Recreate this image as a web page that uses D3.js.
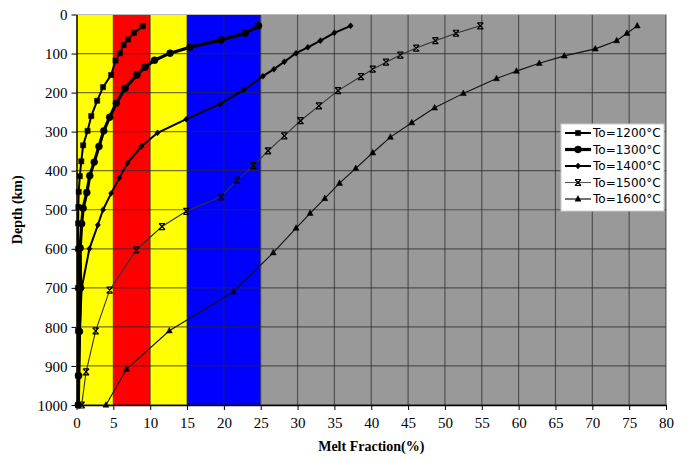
<!DOCTYPE html>
<html>
<head>
<meta charset="utf-8">
<script src="https://cdnjs.cloudflare.com/ajax/libs/d3/7.8.5/d3.min.js"></script>
<style>
  body { margin: 0; background: #fff; }
</style>
</head>
<body>
<div id="chart"></div>
<script>
// melt fraction (%) vs depth (km), one array per starting temperature
const s1200 = [[9.0,30],[7.8,47],[7.0,64],[6.4,78],[5.9,99],[5.3,118],[4.7,155],[3.6,186],[2.8,221],[2.0,260],[1.5,298],[0.9,335],[0.65,376],[0.45,414],[0.3,454],[0.25,493],[0.22,535],[0.2,600],[0.2,700],[0.2,810],[0.2,925],[0.2,1000]];
const s1300 = [[24.7,29],[22.9,48],[19.6,65],[15.4,84],[12.7,99],[10.6,117],[9.3,135],[8.2,155],[6.6,189],[5.4,227],[4.5,263],[3.7,298],[3.05,338],[2.4,378],[1.8,413],[1.4,456],[0.9,496],[0.7,536],[0.5,598],[0.55,700],[0.4,812],[0.3,925],[0.25,1000]];
const s1400 = [[37.2,29],[35.0,47],[33.1,67],[31.4,84],[29.8,99],[28.2,121],[26.8,140],[25.3,158],[22.7,193],[19.5,229],[14.9,268],[11.0,303],[8.8,338],[6.9,381],[5.8,419],[4.7,458],[3.6,500],[2.9,539],[1.75,600],[0.7,701],[0.45,810],[0.35,925],[0.3,1000]];
const s1500 = [[54.8,29],[51.5,48],[48.7,67],[46.1,86],[43.95,104],[42.0,122],[40.2,140],[38.6,159],[35.5,195],[32.9,234],[30.4,272],[28.2,311],[26.0,349],[24.0,387],[21.8,424],[19.6,467],[14.9,504],[11.6,543],[8.1,603],[4.5,706],[2.6,810],[1.3,915],[0.7,1000]];
const s1600 = [[76.1,29],[74.7,48],[73.3,67],[70.4,88],[66.2,106],[62.8,125],[59.7,145],[57.0,164],[52.5,202],[48.6,239],[45.5,277],[42.6,314],[40.2,354],[37.9,394],[35.7,432],[33.7,471],[31.7,509],[29.8,547],[26.7,610],[21.3,710],[12.6,810],[6.8,908],[4.0,1000]];

const seriesNames = ["To=1200°C", "To=1300°C", "To=1400°C", "To=1500°C", "To=1600°C"];

// coloured melt-fraction bands [from, to, colour]
const bands = [[0,5,"#ffff00"],[5,10,"#ff0000"],[10,15,"#ffff00"],[15,25,"#0000ff"],[25,80,"#999999"]];

const xTicks = d3.range(0, 81, 5);
const yTicks = d3.range(0, 1001, 100);

const W = 684, H = 462;
const margin = { top: 14.5, left: 76.5, right: 18, bottom: 57 };

const svg = d3.select("#chart").append("svg")
  .attr("width", W)
  .attr("height", H);

const x = d3.scaleLinear().domain([0, 80]).range([margin.left, W - margin.right]);
const y = d3.scaleLinear().domain([0, 1000]).range([margin.top, H - margin.bottom]);

// bands
svg.selectAll(".band")
  .data(bands)
  .enter().append("rect")
  .attr("x", d => x(d[0]))
  .attr("y", y(0))
  .attr("width", d => x(d[1]) - x(d[0]))
  .attr("height", y(1000) - y(0))
  .attr("fill", d => d[2]);

// grid
const grid = svg.append("g").attr("stroke", "#2a2a2a").attr("stroke-opacity", 0.65).attr("stroke-width", 1.2);
grid.selectAll(".vg").data(xTicks.slice(1)).enter().append("line")
  .attr("x1", d => x(d)).attr("x2", d => x(d))
  .attr("y1", y(0)).attr("y2", y(1000));
grid.selectAll(".hg").data(yTicks.slice(1)).enter().append("line")
  .attr("x1", x(0)).attr("x2", x(80))
  .attr("y1", d => y(d)).attr("y2", d => y(d));
svg.append("line")
  .attr("x1", x(0)).attr("x2", x(80)).attr("y1", y(0)).attr("y2", y(0))
  .attr("stroke", "#bbb");

// axes
const xAxis = d3.axisBottom(x).tickValues(xTicks).tickFormat(d3.format("d")).tickSize(5).tickSizeOuter(0);
const yAxis = d3.axisLeft(y).tickValues(yTicks).tickFormat(d3.format("d")).tickSize(5).tickSizeOuter(0);

const gx = svg.append("g")
  .attr("transform", "translate(0," + y(1000) + ")")
  .call(xAxis);
gx.select(".domain").attr("stroke-width", 1.5);
gx.selectAll(".tick text").attr("dy", "1.0em");

const gy = svg.append("g")
  .attr("transform", "translate(" + x(0) + ",0)")
  .call(yAxis);
gy.select(".domain").attr("stroke-width", 1.5);
gy.selectAll(".tick text").attr("dy", "0.34em").attr("x", -9);

svg.selectAll(".tick text")
  .attr("font-family", null)
  .style("font-family", "'Liberation Serif', serif")
  .style("font-size", "15px")
  .style("fill", "#000");

svg.append("text")
  .attr("x", (x(0) + x(80)) / 2)
  .attr("y", 451)
  .attr("text-anchor", "middle")
  .style("font-family", "'Liberation Serif', serif")
  .style("font-weight", "bold")
  .style("font-size", "14px")
  .text("Melt Fraction(%)");

svg.append("text")
  .attr("transform", "translate(22," + ((y(0) + y(1000)) / 2) + ") rotate(-90)")
  .attr("text-anchor", "middle")
  .style("font-family", "'Liberation Serif', serif")
  .style("font-weight", "bold")
  .style("font-size", "14px")
  .text("Depth (km)");

// series styles
const styles = [
  { data: s1200, width: 2, color: "#000", marker: "square" },
  { data: s1300, width: 3.2, color: "#000", marker: "circle" },
  { data: s1400, width: 2, color: "#000", marker: "diamond" },
  { data: s1500, width: 1.1, color: "#333", marker: "star" },
  { data: s1600, width: 1.1, color: "#111", marker: "triangle" }
];

const line = d3.line().x(d => x(d[0])).y(d => y(d[1]));

function markerPath(type) {
  if (type === "square") return "M-2.6,-2.6H2.6V2.6H-2.6Z";
  if (type === "circle") return d3.symbol(d3.symbolCircle, 38)();
  if (type === "diamond") return "M0,-3L2.6,0L0,3L-2.6,0Z";
  if (type === "triangle") return "M0,-3.4L3,2.2H-3Z";
  return "M-3,-3L3,3M3,-3L-3,3M-3,-3H3M-3,3H3";
}

styles.forEach(function(s) {
  svg.append("path")
    .datum(s.data)
    .attr("d", line)
    .attr("fill", "none")
    .attr("stroke", s.color)
    .attr("stroke-width", s.width);

  svg.selectAll(null)
    .data(s.data)
    .enter().append("path")
    .attr("transform", d => "translate(" + x(d[0]) + "," + y(d[1]) + ")")
    .attr("d", markerPath(s.marker))
    .attr("fill", s.marker === "star" ? "none" : "#000")
    .attr("stroke", "#000")
    .attr("stroke-width", s.marker === "star" ? 1.2 : 0.5);
});

// legend
const legend = svg.append("g").attr("transform", "translate(561,124)");
legend.append("rect")
  .attr("width", 103)
  .attr("height", 87)
  .attr("fill", "#fff")
  .attr("stroke", "#ccc");

const item = legend.selectAll(".legend")
  .data(styles)
  .enter().append("g")
  .attr("class", "legend")
  .attr("transform", (d, i) => "translate(0," + (9 + i * 16.5) + ")");

item.append("line")
  .attr("x1", 4).attr("x2", 30)
  .attr("stroke", d => d.marker === "star" ? "#555" : "#000")
  .attr("stroke-width", d => d.width);
item.append("path")
  .attr("transform", "translate(17,0)")
  .attr("d", d => markerPath(d.marker))
  .attr("fill", d => d.marker === "star" ? "none" : "#000")
  .attr("stroke", "#000")
  .attr("stroke-width", d => d.marker === "star" ? 1.2 : 0.5);
item.append("text")
  .attr("x", 32)
  .attr("dy", "0.35em")
  .style("font-family", "'DejaVu Sans', sans-serif")
  .style("font-size", "12px")
  .text((d, i) => seriesNames[i]);
</script>
</body>
</html>
